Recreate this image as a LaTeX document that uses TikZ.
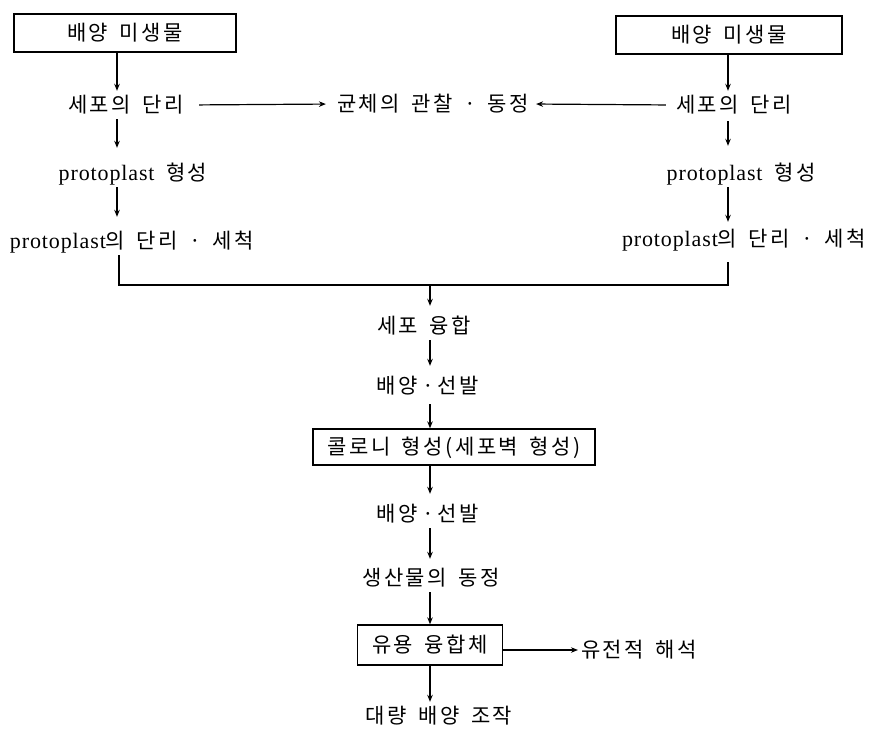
\documentclass[tikz,border=0pt]{standalone}
\usepackage{fontspec}
\newfontfamily\kr[LetterSpace=12, WordSpace=1.6]{Noto Sans CJK KR}
\newfontfamily\lat[LetterSpace=4]{Liberation Serif}
\usetikzlibrary{arrows.meta}
\tikzset{
  x=1pt, y=-1pt,
  lbl/.style={font=\kr\fontsize{21}{24}\selectfont, text height=17pt, text depth=3pt, inner xsep=3pt, inner ysep=4pt},
  boxnode/.style={lbl, draw, line width=1.3pt, inner sep=0pt},
  conn/.style={line width=1.2pt, -{Stealth[length=7pt,width=5.5pt]}},
  plain/.style={line width=1.2pt}
}
\newcommand{\pp}{{\lat\fontsize{22}{26}\selectfont protoplast}}
\newcommand{\sdot}{\hspace{4pt}·\hspace{4pt}}
\begin{document}
\begin{tikzpicture}
\useasboundingbox (0,0) rectangle (869,729);
\coordinate (cL) at (117,0);
\coordinate (cR) at (728,0);
\coordinate (cC) at (430,0);
% nodes
\node[boxnode, minimum width=222pt, minimum height=38pt] (boxL) at (125,33) {배양 미생물};
\node[boxnode, minimum width=226pt, minimum height=38pt] (boxR) at (729,35) {배양 미생물};
\node[lbl] (sepL) at (126,105) {세포의 단리};
\node[lbl] (obs) at (433,104) {균체의 관찰 · 동정};
\node[lbl] (sepR) at (734,105) {세포의 단리};
\node[lbl] (protoL) at (133,173) {\pp\ 형성};
\node[lbl] (protoL2) at (132,241) {\pp 의 단리 · 세척};
\node[lbl] (protoR) at (741,173) {\pp\ 형성};
\node[lbl] (protoR2) at (744,239) {\pp 의 단리 · 세척};
\node[lbl] (fuse) at (424,326) {세포 융합};
\node[lbl] (cul1) at (428,386) {배양\sdot 선발};
\node[boxnode, minimum width=282pt, minimum height=36pt] (colony) at (454,447) {콜로니 형성(세포벽 형성)};
\node[lbl] (cul2) at (428,514) {배양\sdot 선발};
\node[lbl] (prod) at (431,578) {생산물의 동정};
\node[boxnode, minimum width=145pt, minimum height=40pt] (useful) at (430,645) {유용 융합체};
\node[lbl] (genetic) at (639,650) {유전적 해석};
\node[lbl] (mass) at (439,716) {대량 배양 조작};
\coordinate (mL) at (119,285);
\coordinate (mR) at (728,285);
\coordinate (mC) at (430,285);
% connectors
\draw[conn] (boxL.south -| cL) -- (sepL.north -| cL);
\draw[conn, shorten <=12pt, shorten >=8pt] (sepL.east) -- (obs.west);
\draw[conn, shorten <=7pt, shorten >=4pt] (sepR.west) -- (obs.east);
\draw[conn, shorten >=11pt] (sepL.south -| cL) -- (protoL.north -| cL);
\draw[conn, shorten >=10pt] (protoL.south -| cL) -- (protoL2.north -| cL);
\draw[conn] (boxR.south -| cR) -- (sepR.north -| cR);
\draw[conn, shorten <=2pt, shorten >=13pt] (sepR.south -| cR) -- (protoR.north -| cR);
\draw[conn, shorten >=3pt] (protoR.south -| cR) -- (protoR2.north -| cR);
\draw[plain] (protoL2.south -| mL) -- (mL) -- (mR) -- ([yshift=-9pt]protoR2.south -| mR);
\draw[conn, shorten >=6pt] (mC) -- (fuse.north -| cC);
\draw[conn, shorten >=6pt] (fuse.south -| cC) -- (cul1.north -| cC);
\draw[conn, shorten <=4pt] (cul1.south -| cC) -- (colony.north -| cC);
\draw[conn, shorten >=6pt] (colony.south -| cC) -- (cul2.north -| cC);
\draw[conn, shorten >=5pt] (cul2.south -| cC) -- (prod.north -| cC);
\draw[conn] (prod.south -| cC) -- (useful.north -| cC);
\draw[conn] (useful.east |- genetic.west) -- (genetic.west);
\draw[conn] (useful.south -| cC) -- (mass.north -| cC);
\end{tikzpicture}
\end{document}
